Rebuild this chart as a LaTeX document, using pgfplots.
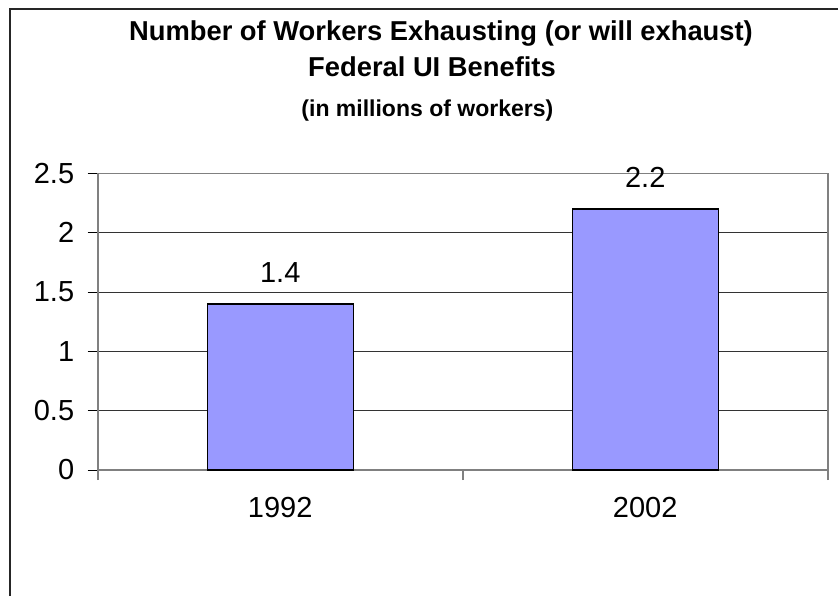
\documentclass[border=0pt]{standalone}
\usepackage{pgfplots}
\pgfplotsset{compat=1.18}
\usepackage{fontspec}
\setmainfont{Liberation Sans}
\definecolor{barfill}{HTML}{9999FF}
\definecolor{axgray}{HTML}{808080}
\begin{document}
\begin{tikzpicture}
\path[use as bounding box] (0,0) rectangle (628.5pt,-447pt);
% outer frame (left and top edges visible)
\draw[black!85, line width=0.8pt] (7.5pt,-447pt) -- (7.5pt,-6.75pt) -- (628.5pt,-6.75pt);
% titles
\node[anchor=base, font=\fontsize{20.5pt}{24pt}\selectfont\bfseries, inner sep=0pt] at (330.75pt,-30.6pt) {Number of Workers Exhausting (or will exhaust)};
\node[anchor=base, font=\fontsize{20.5pt}{24pt}\selectfont\bfseries, inner sep=0pt] at (324pt,-57.5pt) {Federal UI Benefits};
\node[anchor=base, font=\fontsize{17.25pt}{20pt}\selectfont\bfseries, inner sep=0pt] at (320.5pt,-87.5pt) {(in millions of workers)};
\begin{axis}[
  at={(73.3pt,-352.5pt)}, anchor=south west,
  width=547.5pt, height=222.4pt, scale only axis,
  ymin=0, ymax=2.5, xmin=0, xmax=2,
  ytick={0,0.5,1,1.5,2,2.5},
  yticklabels={0,0.5,1,1.5,2,2.5},
  xtick={0,1,2}, xticklabels={},
  extra x ticks={0.5,1.5}, extra x tick labels={1992,2002},
  extra x tick style={major tick length=0pt},
  tick align=outside, tick pos=left,
  major tick length=7.5pt,
  x tick style={draw=axgray, line width=1.2pt},
  y tick style={draw=black, line width=0.75pt},
  ymajorgrids, major grid style={draw=black!80, line width=0.75pt},
  axis line style={draw=axgray, line width=1.2pt},
  tick label style={font=\fontsize{21.75pt}{26pt}\selectfont},
  yticklabel style={anchor=east, inner sep=0pt, xshift=-10pt},
  xticklabel style={anchor=north, inner sep=0pt, yshift=-20pt},
  ybar, bar width=0.4,
  nodes near coords, point meta=explicit symbolic,
  every node near coord/.append style={font=\fontsize{21.75pt}{26pt}\selectfont, anchor=south, inner sep=0pt, yshift=15.75pt},
  clip=false,
]
\addplot[fill=barfill, draw=black, line width=1.1pt] coordinates {(0.5,1.4)[1.4] (1.5,2.2)[2.2]};
\end{axis}
\end{tikzpicture}
\end{document}
